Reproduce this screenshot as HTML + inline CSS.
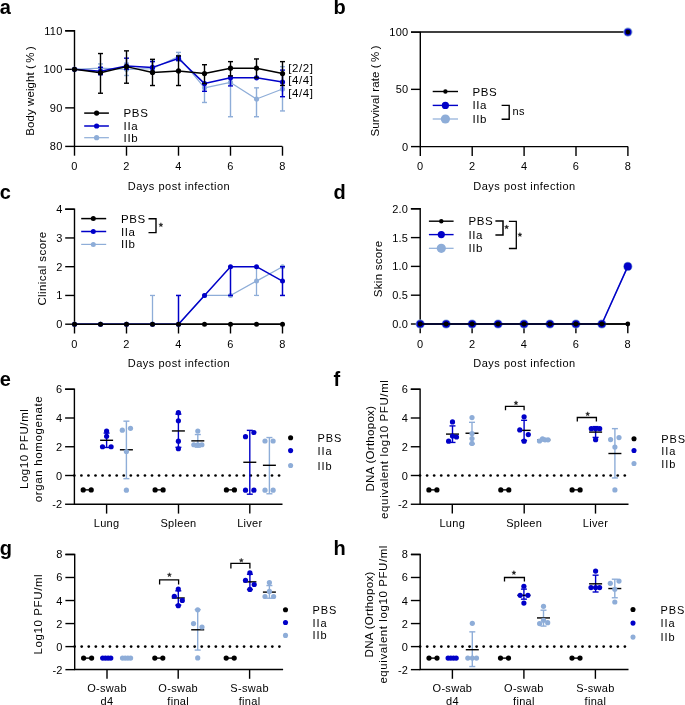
<!DOCTYPE html>
<html><head><meta charset="utf-8"><style>
html,body{margin:0;padding:0;background:#fff;}
svg{display:block;will-change:transform;}
text{font-family:"Liberation Sans", sans-serif;}
</style></head><body>
<svg width="685" height="705" viewBox="0 0 685 705">
<rect width="685" height="705" fill="#fff"/>
<text x="-0.3" y="14" font-size="20" font-weight="bold" fill="#000">a</text>
<text x="333.6" y="14" font-size="20" font-weight="bold" fill="#000">b</text>
<text x="-0.3" y="199.3" font-size="20" font-weight="bold" fill="#000">c</text>
<text x="333.6" y="199.3" font-size="20" font-weight="bold" fill="#000">d</text>
<text x="-0.3" y="385.6" font-size="20" font-weight="bold" fill="#000">e</text>
<text x="333.6" y="385.6" font-size="20" font-weight="bold" fill="#000">f</text>
<text x="-0.3" y="554.7" font-size="20" font-weight="bold" fill="#000">g</text>
<text x="333.6" y="554.7" font-size="20" font-weight="bold" fill="#000">h</text>
<polyline fill="none" stroke="#000000" stroke-width="1.4" stroke-linejoin="miter" points="65.20,30.81 74.50,30.81 74.50,146.40 282.30,146.40"/>
<line x1="65.20" y1="30.81" x2="74.50" y2="30.81" stroke="#000000" stroke-width="1.4" />
<text x="62.50" y="30.81" font-size="11" text-anchor="end" fill="#000000" letter-spacing="0.2" font-weight="normal" dominant-baseline="central">110</text>
<line x1="65.20" y1="69.34" x2="74.50" y2="69.34" stroke="#000000" stroke-width="1.4" />
<text x="62.50" y="69.34" font-size="11" text-anchor="end" fill="#000000" letter-spacing="0.2" font-weight="normal" dominant-baseline="central">100</text>
<line x1="65.20" y1="107.87" x2="74.50" y2="107.87" stroke="#000000" stroke-width="1.4" />
<text x="62.50" y="107.87" font-size="11" text-anchor="end" fill="#000000" letter-spacing="0.2" font-weight="normal" dominant-baseline="central">90</text>
<line x1="65.20" y1="146.40" x2="74.50" y2="146.40" stroke="#000000" stroke-width="1.4" />
<text x="62.50" y="146.40" font-size="11" text-anchor="end" fill="#000000" letter-spacing="0.2" font-weight="normal" dominant-baseline="central">80</text>
<line x1="74.50" y1="146.40" x2="74.50" y2="155.70" stroke="#000000" stroke-width="1.4" />
<text x="74.50" y="165.90" font-size="11" text-anchor="middle" fill="#000000" letter-spacing="0.3" font-weight="normal" dominant-baseline="central">0</text>
<line x1="126.50" y1="146.40" x2="126.50" y2="155.70" stroke="#000000" stroke-width="1.4" />
<text x="126.50" y="165.90" font-size="11" text-anchor="middle" fill="#000000" letter-spacing="0.3" font-weight="normal" dominant-baseline="central">2</text>
<line x1="178.50" y1="146.40" x2="178.50" y2="155.70" stroke="#000000" stroke-width="1.4" />
<text x="178.50" y="165.90" font-size="11" text-anchor="middle" fill="#000000" letter-spacing="0.3" font-weight="normal" dominant-baseline="central">4</text>
<line x1="230.50" y1="146.40" x2="230.50" y2="155.70" stroke="#000000" stroke-width="1.4" />
<text x="230.50" y="165.90" font-size="11" text-anchor="middle" fill="#000000" letter-spacing="0.3" font-weight="normal" dominant-baseline="central">6</text>
<line x1="282.50" y1="146.40" x2="282.50" y2="155.70" stroke="#000000" stroke-width="1.4" />
<text x="282.50" y="165.90" font-size="11" text-anchor="middle" fill="#000000" letter-spacing="0.3" font-weight="normal" dominant-baseline="central">8</text>
<text x="179.00" y="186.00" font-size="11" text-anchor="middle" fill="#000000" letter-spacing="0.5" font-weight="normal" dominant-baseline="central">Days post infection</text>
<text x="33.70" y="135.70" font-size="11.5" fill="#000000" textLength="89.50" lengthAdjust="spacing" transform="rotate(-90 33.70 135.70)">Body weight (&#8201;%&#8201;)</text>
<line x1="100.50" y1="63.95" x2="100.50" y2="72.42" stroke="#8eadd8" stroke-width="1.4" />
<line x1="98.00" y1="63.95" x2="103.00" y2="63.95" stroke="#8eadd8" stroke-width="1.4" />
<line x1="98.00" y1="72.42" x2="103.00" y2="72.42" stroke="#8eadd8" stroke-width="1.4" />
<line x1="126.50" y1="63.18" x2="126.50" y2="75.50" stroke="#8eadd8" stroke-width="1.4" />
<line x1="124.00" y1="63.18" x2="129.00" y2="63.18" stroke="#8eadd8" stroke-width="1.4" />
<line x1="124.00" y1="75.50" x2="129.00" y2="75.50" stroke="#8eadd8" stroke-width="1.4" />
<line x1="152.50" y1="60.86" x2="152.50" y2="73.19" stroke="#8eadd8" stroke-width="1.4" />
<line x1="150.00" y1="60.86" x2="155.00" y2="60.86" stroke="#8eadd8" stroke-width="1.4" />
<line x1="150.00" y1="73.19" x2="155.00" y2="73.19" stroke="#8eadd8" stroke-width="1.4" />
<line x1="178.50" y1="52.39" x2="178.50" y2="60.86" stroke="#8eadd8" stroke-width="1.4" />
<line x1="176.00" y1="52.39" x2="181.00" y2="52.39" stroke="#8eadd8" stroke-width="1.4" />
<line x1="176.00" y1="60.86" x2="181.00" y2="60.86" stroke="#8eadd8" stroke-width="1.4" />
<line x1="204.50" y1="87.83" x2="204.50" y2="102.48" stroke="#8eadd8" stroke-width="1.4" />
<line x1="202.00" y1="87.83" x2="207.00" y2="87.83" stroke="#8eadd8" stroke-width="1.4" />
<line x1="202.00" y1="102.48" x2="207.00" y2="102.48" stroke="#8eadd8" stroke-width="1.4" />
<line x1="230.50" y1="82.44" x2="230.50" y2="116.73" stroke="#8eadd8" stroke-width="1.4" />
<line x1="228.00" y1="82.44" x2="233.00" y2="82.44" stroke="#8eadd8" stroke-width="1.4" />
<line x1="228.00" y1="116.73" x2="233.00" y2="116.73" stroke="#8eadd8" stroke-width="1.4" />
<line x1="256.50" y1="87.83" x2="256.50" y2="116.73" stroke="#8eadd8" stroke-width="1.4" />
<line x1="254.00" y1="87.83" x2="259.00" y2="87.83" stroke="#8eadd8" stroke-width="1.4" />
<line x1="254.00" y1="116.73" x2="259.00" y2="116.73" stroke="#8eadd8" stroke-width="1.4" />
<line x1="282.50" y1="66.64" x2="282.50" y2="110.95" stroke="#8eadd8" stroke-width="1.4" />
<line x1="280.00" y1="66.64" x2="285.00" y2="66.64" stroke="#8eadd8" stroke-width="1.4" />
<line x1="280.00" y1="110.95" x2="285.00" y2="110.95" stroke="#8eadd8" stroke-width="1.4" />
<polyline fill="none" stroke="#8eadd8" stroke-width="1.2" stroke-linejoin="round" points="74.50,69.34 100.50,68.18 126.50,69.34 152.50,68.57 178.50,56.63 204.50,87.83 230.50,82.44 256.50,99.01 282.50,88.99"/>
<circle cx="74.50" cy="69.34" r="2.6" fill="#8eadd8"/>
<circle cx="100.50" cy="68.18" r="2.6" fill="#8eadd8"/>
<circle cx="126.50" cy="69.34" r="2.6" fill="#8eadd8"/>
<circle cx="152.50" cy="68.57" r="2.6" fill="#8eadd8"/>
<circle cx="178.50" cy="56.63" r="2.6" fill="#8eadd8"/>
<circle cx="204.50" cy="87.83" r="2.6" fill="#8eadd8"/>
<circle cx="230.50" cy="82.44" r="2.6" fill="#8eadd8"/>
<circle cx="256.50" cy="99.01" r="2.6" fill="#8eadd8"/>
<circle cx="282.50" cy="88.99" r="2.6" fill="#8eadd8"/>
<line x1="100.50" y1="67.41" x2="100.50" y2="74.73" stroke="#0000c8" stroke-width="1.4" />
<line x1="98.00" y1="67.41" x2="103.00" y2="67.41" stroke="#0000c8" stroke-width="1.4" />
<line x1="98.00" y1="74.73" x2="103.00" y2="74.73" stroke="#0000c8" stroke-width="1.4" />
<line x1="126.50" y1="58.17" x2="126.50" y2="69.34" stroke="#0000c8" stroke-width="1.4" />
<line x1="124.00" y1="58.17" x2="129.00" y2="58.17" stroke="#0000c8" stroke-width="1.4" />
<line x1="124.00" y1="69.34" x2="129.00" y2="69.34" stroke="#0000c8" stroke-width="1.4" />
<line x1="152.50" y1="61.63" x2="152.50" y2="71.27" stroke="#0000c8" stroke-width="1.4" />
<line x1="150.00" y1="61.63" x2="155.00" y2="61.63" stroke="#0000c8" stroke-width="1.4" />
<line x1="150.00" y1="71.27" x2="155.00" y2="71.27" stroke="#0000c8" stroke-width="1.4" />
<line x1="178.50" y1="56.63" x2="178.50" y2="60.48" stroke="#0000c8" stroke-width="1.4" />
<line x1="176.00" y1="56.63" x2="181.00" y2="56.63" stroke="#0000c8" stroke-width="1.4" />
<line x1="176.00" y1="60.48" x2="181.00" y2="60.48" stroke="#0000c8" stroke-width="1.4" />
<line x1="204.50" y1="83.60" x2="204.50" y2="91.30" stroke="#0000c8" stroke-width="1.4" />
<line x1="202.00" y1="83.60" x2="207.00" y2="83.60" stroke="#0000c8" stroke-width="1.4" />
<line x1="202.00" y1="91.30" x2="207.00" y2="91.30" stroke="#0000c8" stroke-width="1.4" />
<line x1="230.50" y1="77.82" x2="230.50" y2="85.91" stroke="#0000c8" stroke-width="1.4" />
<line x1="228.00" y1="77.82" x2="233.00" y2="77.82" stroke="#0000c8" stroke-width="1.4" />
<line x1="228.00" y1="85.91" x2="233.00" y2="85.91" stroke="#0000c8" stroke-width="1.4" />
<line x1="282.50" y1="70.11" x2="282.50" y2="96.70" stroke="#0000c8" stroke-width="1.4" />
<line x1="280.00" y1="70.11" x2="285.00" y2="70.11" stroke="#0000c8" stroke-width="1.4" />
<line x1="280.00" y1="96.70" x2="285.00" y2="96.70" stroke="#0000c8" stroke-width="1.4" />
<polyline fill="none" stroke="#0000c8" stroke-width="1.5" stroke-linejoin="round" points="74.50,69.34 100.50,71.27 126.50,66.06 152.50,67.41 178.50,58.55 204.50,83.60 230.50,77.82 256.50,77.82 282.50,82.05"/>
<circle cx="74.50" cy="69.34" r="2.6" fill="#0000c8"/>
<circle cx="100.50" cy="71.27" r="2.6" fill="#0000c8"/>
<circle cx="126.50" cy="66.06" r="2.6" fill="#0000c8"/>
<circle cx="152.50" cy="67.41" r="2.6" fill="#0000c8"/>
<circle cx="178.50" cy="58.55" r="2.6" fill="#0000c8"/>
<circle cx="204.50" cy="83.60" r="2.6" fill="#0000c8"/>
<circle cx="230.50" cy="77.82" r="2.6" fill="#0000c8"/>
<circle cx="256.50" cy="77.82" r="2.6" fill="#0000c8"/>
<circle cx="282.50" cy="82.05" r="2.6" fill="#0000c8"/>
<line x1="100.50" y1="53.54" x2="100.50" y2="93.23" stroke="#000000" stroke-width="1.4" />
<line x1="98.00" y1="53.54" x2="103.00" y2="53.54" stroke="#000000" stroke-width="1.4" />
<line x1="98.00" y1="93.23" x2="103.00" y2="93.23" stroke="#000000" stroke-width="1.4" />
<line x1="126.50" y1="50.85" x2="126.50" y2="83.21" stroke="#000000" stroke-width="1.4" />
<line x1="124.00" y1="50.85" x2="129.00" y2="50.85" stroke="#000000" stroke-width="1.4" />
<line x1="124.00" y1="83.21" x2="129.00" y2="83.21" stroke="#000000" stroke-width="1.4" />
<line x1="152.50" y1="59.32" x2="152.50" y2="85.52" stroke="#000000" stroke-width="1.4" />
<line x1="150.00" y1="59.32" x2="155.00" y2="59.32" stroke="#000000" stroke-width="1.4" />
<line x1="150.00" y1="85.52" x2="155.00" y2="85.52" stroke="#000000" stroke-width="1.4" />
<line x1="178.50" y1="55.85" x2="178.50" y2="85.52" stroke="#000000" stroke-width="1.4" />
<line x1="176.00" y1="55.85" x2="181.00" y2="55.85" stroke="#000000" stroke-width="1.4" />
<line x1="176.00" y1="85.52" x2="181.00" y2="85.52" stroke="#000000" stroke-width="1.4" />
<line x1="204.50" y1="64.72" x2="204.50" y2="83.60" stroke="#000000" stroke-width="1.4" />
<line x1="202.00" y1="64.72" x2="207.00" y2="64.72" stroke="#000000" stroke-width="1.4" />
<line x1="202.00" y1="83.60" x2="207.00" y2="83.60" stroke="#000000" stroke-width="1.4" />
<line x1="230.50" y1="61.63" x2="230.50" y2="75.89" stroke="#000000" stroke-width="1.4" />
<line x1="228.00" y1="61.63" x2="233.00" y2="61.63" stroke="#000000" stroke-width="1.4" />
<line x1="228.00" y1="75.89" x2="233.00" y2="75.89" stroke="#000000" stroke-width="1.4" />
<line x1="256.50" y1="58.94" x2="256.50" y2="77.82" stroke="#000000" stroke-width="1.4" />
<line x1="254.00" y1="58.94" x2="259.00" y2="58.94" stroke="#000000" stroke-width="1.4" />
<line x1="254.00" y1="77.82" x2="259.00" y2="77.82" stroke="#000000" stroke-width="1.4" />
<line x1="282.50" y1="61.63" x2="282.50" y2="85.52" stroke="#000000" stroke-width="1.4" />
<line x1="280.00" y1="61.63" x2="285.00" y2="61.63" stroke="#000000" stroke-width="1.4" />
<line x1="280.00" y1="85.52" x2="285.00" y2="85.52" stroke="#000000" stroke-width="1.4" />
<polyline fill="none" stroke="#000000" stroke-width="1.5" stroke-linejoin="round" points="74.50,69.34 100.50,72.81 126.50,66.64 152.50,72.42 178.50,70.88 204.50,73.58 230.50,68.18 256.50,68.18 282.50,73.58"/>
<circle cx="74.50" cy="69.34" r="2.6" fill="#000000"/>
<circle cx="100.50" cy="72.81" r="2.6" fill="#000000"/>
<circle cx="126.50" cy="66.64" r="2.6" fill="#000000"/>
<circle cx="152.50" cy="72.42" r="2.6" fill="#000000"/>
<circle cx="178.50" cy="70.88" r="2.6" fill="#000000"/>
<circle cx="204.50" cy="73.58" r="2.6" fill="#000000"/>
<circle cx="230.50" cy="68.18" r="2.6" fill="#000000"/>
<circle cx="256.50" cy="68.18" r="2.6" fill="#000000"/>
<circle cx="282.50" cy="73.58" r="2.6" fill="#000000"/>
<text x="288.30" y="67.80" font-size="11.5" text-anchor="start" fill="#000000" letter-spacing="0.55" font-weight="normal" dominant-baseline="central">[2/2]</text>
<text x="288.30" y="79.80" font-size="11.5" text-anchor="start" fill="#000000" letter-spacing="0.55" font-weight="normal" dominant-baseline="central">[4/4]</text>
<text x="288.30" y="92.80" font-size="11.5" text-anchor="start" fill="#000000" letter-spacing="0.55" font-weight="normal" dominant-baseline="central">[4/4]</text>
<line x1="84.20" y1="113.10" x2="108.90" y2="113.10" stroke="#000000" stroke-width="1.5" />
<circle cx="96.60" cy="113.10" r="2.6" fill="#000000"/>
<text x="123.60" y="113.10" font-size="11.5" text-anchor="start" fill="#000000" letter-spacing="0.6" font-weight="normal" dominant-baseline="central">PBS</text>
<line x1="84.20" y1="126.00" x2="108.90" y2="126.00" stroke="#0000c8" stroke-width="1.5" />
<circle cx="96.60" cy="126.00" r="2.6" fill="#0000c8"/>
<text x="123.60" y="126.00" font-size="11.5" text-anchor="start" fill="#000000" letter-spacing="0.6" font-weight="normal" dominant-baseline="central">IIa</text>
<line x1="84.20" y1="137.70" x2="108.90" y2="137.70" stroke="#8eadd8" stroke-width="1.2" />
<circle cx="96.60" cy="137.70" r="2.6" fill="#8eadd8"/>
<text x="123.60" y="137.70" font-size="11.5" text-anchor="start" fill="#000000" letter-spacing="0.6" font-weight="normal" dominant-baseline="central">IIb</text>
<polyline fill="none" stroke="#000000" stroke-width="1.4" stroke-linejoin="miter" points="411.00,32.10 420.30,32.10 420.30,146.60 628.00,146.60"/>
<line x1="411.00" y1="32.10" x2="420.30" y2="32.10" stroke="#000000" stroke-width="1.4" />
<text x="408.30" y="32.10" font-size="11" text-anchor="end" fill="#000000" letter-spacing="0.2" font-weight="normal" dominant-baseline="central">100</text>
<line x1="411.00" y1="89.35" x2="420.30" y2="89.35" stroke="#000000" stroke-width="1.4" />
<text x="408.30" y="89.35" font-size="11" text-anchor="end" fill="#000000" letter-spacing="0.2" font-weight="normal" dominant-baseline="central">50</text>
<line x1="411.00" y1="146.60" x2="420.30" y2="146.60" stroke="#000000" stroke-width="1.4" />
<text x="408.30" y="146.60" font-size="11" text-anchor="end" fill="#000000" letter-spacing="0.2" font-weight="normal" dominant-baseline="central">0</text>
<line x1="420.30" y1="146.60" x2="420.30" y2="155.90" stroke="#000000" stroke-width="1.4" />
<text x="420.30" y="166.10" font-size="11" text-anchor="middle" fill="#000000" letter-spacing="0.3" font-weight="normal" dominant-baseline="central">0</text>
<line x1="472.20" y1="146.60" x2="472.20" y2="155.90" stroke="#000000" stroke-width="1.4" />
<text x="472.20" y="166.10" font-size="11" text-anchor="middle" fill="#000000" letter-spacing="0.3" font-weight="normal" dominant-baseline="central">2</text>
<line x1="524.10" y1="146.60" x2="524.10" y2="155.90" stroke="#000000" stroke-width="1.4" />
<text x="524.10" y="166.10" font-size="11" text-anchor="middle" fill="#000000" letter-spacing="0.3" font-weight="normal" dominant-baseline="central">4</text>
<line x1="576.00" y1="146.60" x2="576.00" y2="155.90" stroke="#000000" stroke-width="1.4" />
<text x="576.00" y="166.10" font-size="11" text-anchor="middle" fill="#000000" letter-spacing="0.3" font-weight="normal" dominant-baseline="central">6</text>
<line x1="627.90" y1="146.60" x2="627.90" y2="155.90" stroke="#000000" stroke-width="1.4" />
<text x="627.90" y="166.10" font-size="11" text-anchor="middle" fill="#000000" letter-spacing="0.3" font-weight="normal" dominant-baseline="central">8</text>
<text x="524.50" y="186.00" font-size="11" text-anchor="middle" fill="#000000" letter-spacing="0.5" font-weight="normal" dominant-baseline="central">Days post infection</text>
<text x="378.70" y="136.50" font-size="11.5" fill="#000000" textLength="91.10" lengthAdjust="spacing" transform="rotate(-90 378.70 136.50)">Survival rate (&#8201;%&#8201;)</text>
<line x1="420.30" y1="32.10" x2="627.90" y2="32.10" stroke="#000000" stroke-width="1.5" />
<circle cx="627.90" cy="32.10" r="4.6" fill="#8eadd8"/>
<circle cx="627.90" cy="32.10" r="3.6" fill="#0000c8"/>
<circle cx="627.90" cy="32.10" r="2.3" fill="#000000"/>
<line x1="432.70" y1="91.50" x2="458.00" y2="91.50" stroke="#000000" stroke-width="1.4" />
<circle cx="445.40" cy="91.50" r="2.2" fill="#000000"/>
<text x="472.40" y="91.50" font-size="11.5" text-anchor="start" fill="#000000" letter-spacing="0.6" font-weight="normal" dominant-baseline="central">PBS</text>
<line x1="432.70" y1="105.40" x2="458.00" y2="105.40" stroke="#0000c8" stroke-width="1.4" />
<circle cx="445.40" cy="105.40" r="3.6" fill="#0000c8"/>
<text x="472.40" y="105.40" font-size="11.5" text-anchor="start" fill="#000000" letter-spacing="0.6" font-weight="normal" dominant-baseline="central">IIa</text>
<line x1="432.70" y1="119.00" x2="458.00" y2="119.00" stroke="#8eadd8" stroke-width="1.2" />
<circle cx="445.40" cy="119.00" r="4.6" fill="#8eadd8"/>
<text x="472.40" y="119.00" font-size="11.5" text-anchor="start" fill="#000000" letter-spacing="0.6" font-weight="normal" dominant-baseline="central">IIb</text>
<polyline fill="none" stroke="#000000" stroke-width="1.4" points="501.6,105.4 509.2,105.4 509.2,119.3 501.6,119.3"/>
<text x="512.50" y="110.80" font-size="11" text-anchor="start" fill="#000000" letter-spacing="0.3" font-weight="normal" dominant-baseline="central">ns</text>
<polyline fill="none" stroke="#000000" stroke-width="1.4" stroke-linejoin="miter" points="65.20,209.20 74.50,209.20 74.50,324.20 282.30,324.20"/>
<line x1="65.20" y1="209.20" x2="74.50" y2="209.20" stroke="#000000" stroke-width="1.4" />
<text x="62.50" y="209.20" font-size="11" text-anchor="end" fill="#000000" letter-spacing="0.2" font-weight="normal" dominant-baseline="central">4</text>
<line x1="65.20" y1="237.95" x2="74.50" y2="237.95" stroke="#000000" stroke-width="1.4" />
<text x="62.50" y="237.95" font-size="11" text-anchor="end" fill="#000000" letter-spacing="0.2" font-weight="normal" dominant-baseline="central">3</text>
<line x1="65.20" y1="266.70" x2="74.50" y2="266.70" stroke="#000000" stroke-width="1.4" />
<text x="62.50" y="266.70" font-size="11" text-anchor="end" fill="#000000" letter-spacing="0.2" font-weight="normal" dominant-baseline="central">2</text>
<line x1="65.20" y1="295.45" x2="74.50" y2="295.45" stroke="#000000" stroke-width="1.4" />
<text x="62.50" y="295.45" font-size="11" text-anchor="end" fill="#000000" letter-spacing="0.2" font-weight="normal" dominant-baseline="central">1</text>
<line x1="65.20" y1="324.20" x2="74.50" y2="324.20" stroke="#000000" stroke-width="1.4" />
<text x="62.50" y="324.20" font-size="11" text-anchor="end" fill="#000000" letter-spacing="0.2" font-weight="normal" dominant-baseline="central">0</text>
<line x1="74.50" y1="324.20" x2="74.50" y2="333.50" stroke="#000000" stroke-width="1.4" />
<text x="74.50" y="343.70" font-size="11" text-anchor="middle" fill="#000000" letter-spacing="0.3" font-weight="normal" dominant-baseline="central">0</text>
<line x1="126.50" y1="324.20" x2="126.50" y2="333.50" stroke="#000000" stroke-width="1.4" />
<text x="126.50" y="343.70" font-size="11" text-anchor="middle" fill="#000000" letter-spacing="0.3" font-weight="normal" dominant-baseline="central">2</text>
<line x1="178.50" y1="324.20" x2="178.50" y2="333.50" stroke="#000000" stroke-width="1.4" />
<text x="178.50" y="343.70" font-size="11" text-anchor="middle" fill="#000000" letter-spacing="0.3" font-weight="normal" dominant-baseline="central">4</text>
<line x1="230.50" y1="324.20" x2="230.50" y2="333.50" stroke="#000000" stroke-width="1.4" />
<text x="230.50" y="343.70" font-size="11" text-anchor="middle" fill="#000000" letter-spacing="0.3" font-weight="normal" dominant-baseline="central">6</text>
<line x1="282.50" y1="324.20" x2="282.50" y2="333.50" stroke="#000000" stroke-width="1.4" />
<text x="282.50" y="343.70" font-size="11" text-anchor="middle" fill="#000000" letter-spacing="0.3" font-weight="normal" dominant-baseline="central">8</text>
<text x="179.00" y="363.00" font-size="11" text-anchor="middle" fill="#000000" letter-spacing="0.5" font-weight="normal" dominant-baseline="central">Days post infection</text>
<text x="46.50" y="305.60" font-size="11.5" fill="#000000" textLength="73.70" lengthAdjust="spacing" transform="rotate(-90 46.50 305.60)">Clinical score</text>
<line x1="152.50" y1="295.45" x2="152.50" y2="324.20" stroke="#8eadd8" stroke-width="1.3" />
<line x1="150.00" y1="295.45" x2="155.00" y2="295.45" stroke="#8eadd8" stroke-width="1.3" />
<line x1="150.00" y1="324.20" x2="155.00" y2="324.20" stroke="#8eadd8" stroke-width="1.3" />
<line x1="256.50" y1="266.70" x2="256.50" y2="295.45" stroke="#8eadd8" stroke-width="1.3" />
<line x1="254.00" y1="266.70" x2="259.00" y2="266.70" stroke="#8eadd8" stroke-width="1.3" />
<line x1="254.00" y1="295.45" x2="259.00" y2="295.45" stroke="#8eadd8" stroke-width="1.3" />
<polyline fill="none" stroke="#8eadd8" stroke-width="1.3" stroke-linejoin="round" points="74.50,324.20 100.50,324.20 126.50,324.20 152.50,324.20 178.50,324.20 204.50,295.45 230.50,295.45 256.50,281.07 282.50,266.70"/>
<circle cx="74.50" cy="324.20" r="2.5" fill="#8eadd8"/>
<circle cx="100.50" cy="324.20" r="2.5" fill="#8eadd8"/>
<circle cx="126.50" cy="324.20" r="2.5" fill="#8eadd8"/>
<circle cx="152.50" cy="324.20" r="2.5" fill="#8eadd8"/>
<circle cx="178.50" cy="324.20" r="2.5" fill="#8eadd8"/>
<circle cx="204.50" cy="295.45" r="2.5" fill="#8eadd8"/>
<circle cx="230.50" cy="295.45" r="2.5" fill="#8eadd8"/>
<circle cx="256.50" cy="281.07" r="2.5" fill="#8eadd8"/>
<circle cx="282.50" cy="266.70" r="2.5" fill="#8eadd8"/>
<line x1="178.50" y1="295.45" x2="178.50" y2="324.20" stroke="#0000c8" stroke-width="1.5" />
<line x1="176.00" y1="295.45" x2="181.00" y2="295.45" stroke="#0000c8" stroke-width="1.5" />
<line x1="176.00" y1="324.20" x2="181.00" y2="324.20" stroke="#0000c8" stroke-width="1.5" />
<line x1="230.50" y1="266.70" x2="230.50" y2="295.45" stroke="#0000c8" stroke-width="1.5" />
<line x1="228.00" y1="266.70" x2="233.00" y2="266.70" stroke="#0000c8" stroke-width="1.5" />
<line x1="228.00" y1="295.45" x2="233.00" y2="295.45" stroke="#0000c8" stroke-width="1.5" />
<line x1="282.50" y1="266.70" x2="282.50" y2="295.45" stroke="#0000c8" stroke-width="1.5" />
<line x1="280.00" y1="266.70" x2="285.00" y2="266.70" stroke="#0000c8" stroke-width="1.5" />
<line x1="280.00" y1="295.45" x2="285.00" y2="295.45" stroke="#0000c8" stroke-width="1.5" />
<polyline fill="none" stroke="#0000c8" stroke-width="1.5" stroke-linejoin="round" points="74.50,324.20 100.50,324.20 126.50,324.20 152.50,324.20 178.50,324.20 204.50,295.45 230.50,266.70 256.50,266.70 282.50,281.07"/>
<circle cx="74.50" cy="324.20" r="2.5" fill="#0000c8"/>
<circle cx="100.50" cy="324.20" r="2.5" fill="#0000c8"/>
<circle cx="126.50" cy="324.20" r="2.5" fill="#0000c8"/>
<circle cx="152.50" cy="324.20" r="2.5" fill="#0000c8"/>
<circle cx="178.50" cy="324.20" r="2.5" fill="#0000c8"/>
<circle cx="204.50" cy="295.45" r="2.5" fill="#0000c8"/>
<circle cx="230.50" cy="266.70" r="2.5" fill="#0000c8"/>
<circle cx="256.50" cy="266.70" r="2.5" fill="#0000c8"/>
<circle cx="282.50" cy="281.07" r="2.5" fill="#0000c8"/>
<line x1="74.50" y1="324.20" x2="282.50" y2="324.20" stroke="#000000" stroke-width="1.5" />
<circle cx="74.50" cy="324.20" r="2.5" fill="#000000"/>
<circle cx="100.50" cy="324.20" r="2.5" fill="#000000"/>
<circle cx="126.50" cy="324.20" r="2.5" fill="#000000"/>
<circle cx="152.50" cy="324.20" r="2.5" fill="#000000"/>
<circle cx="178.50" cy="324.20" r="2.5" fill="#000000"/>
<circle cx="204.50" cy="324.20" r="2.5" fill="#000000"/>
<circle cx="230.50" cy="324.20" r="2.5" fill="#000000"/>
<circle cx="256.50" cy="324.20" r="2.5" fill="#000000"/>
<circle cx="282.50" cy="324.20" r="2.5" fill="#000000"/>
<line x1="81.20" y1="218.60" x2="106.20" y2="218.60" stroke="#000000" stroke-width="1.5" />
<circle cx="93.30" cy="218.60" r="2.5" fill="#000000"/>
<text x="120.90" y="218.60" font-size="11.5" text-anchor="start" fill="#000000" letter-spacing="0.6" font-weight="normal" dominant-baseline="central">PBS</text>
<line x1="81.20" y1="231.50" x2="106.20" y2="231.50" stroke="#0000c8" stroke-width="1.5" />
<circle cx="93.30" cy="231.50" r="2.5" fill="#0000c8"/>
<text x="120.90" y="231.50" font-size="11.5" text-anchor="start" fill="#000000" letter-spacing="0.6" font-weight="normal" dominant-baseline="central">IIa</text>
<line x1="81.20" y1="244.40" x2="106.20" y2="244.40" stroke="#8eadd8" stroke-width="1.2" />
<circle cx="93.30" cy="244.40" r="2.5" fill="#8eadd8"/>
<text x="120.90" y="244.40" font-size="11.5" text-anchor="start" fill="#000000" letter-spacing="0.6" font-weight="normal" dominant-baseline="central">IIb</text>
<polyline fill="none" stroke="#000000" stroke-width="1.4" points="148.5,218.8 156,218.8 156,232.6 148.5,232.6"/>
<polygon points="160.90,222.70 161.46,224.13 162.99,224.22 161.80,225.19 162.19,226.68 160.90,225.85 159.61,226.68 160.00,225.19 158.81,224.22 160.34,224.13" fill="#222" stroke="#222" stroke-width="0.4" stroke-linejoin="round"/>
<polyline fill="none" stroke="#000000" stroke-width="1.4" stroke-linejoin="miter" points="410.90,208.80 420.20,208.80 420.20,324.00 628.00,324.00"/>
<line x1="410.90" y1="208.80" x2="420.20" y2="208.80" stroke="#000000" stroke-width="1.4" />
<text x="408.20" y="208.80" font-size="11" text-anchor="end" fill="#000000" letter-spacing="0.2" font-weight="normal" dominant-baseline="central">2.0</text>
<line x1="410.90" y1="237.60" x2="420.20" y2="237.60" stroke="#000000" stroke-width="1.4" />
<text x="408.20" y="237.60" font-size="11" text-anchor="end" fill="#000000" letter-spacing="0.2" font-weight="normal" dominant-baseline="central">1.5</text>
<line x1="410.90" y1="266.40" x2="420.20" y2="266.40" stroke="#000000" stroke-width="1.4" />
<text x="408.20" y="266.40" font-size="11" text-anchor="end" fill="#000000" letter-spacing="0.2" font-weight="normal" dominant-baseline="central">1.0</text>
<line x1="410.90" y1="295.20" x2="420.20" y2="295.20" stroke="#000000" stroke-width="1.4" />
<text x="408.20" y="295.20" font-size="11" text-anchor="end" fill="#000000" letter-spacing="0.2" font-weight="normal" dominant-baseline="central">0.5</text>
<line x1="410.90" y1="324.00" x2="420.20" y2="324.00" stroke="#000000" stroke-width="1.4" />
<text x="408.20" y="324.00" font-size="11" text-anchor="end" fill="#000000" letter-spacing="0.2" font-weight="normal" dominant-baseline="central">0.0</text>
<line x1="420.20" y1="324.00" x2="420.20" y2="333.30" stroke="#000000" stroke-width="1.4" />
<text x="420.20" y="343.50" font-size="11" text-anchor="middle" fill="#000000" letter-spacing="0.3" font-weight="normal" dominant-baseline="central">0</text>
<line x1="472.10" y1="324.00" x2="472.10" y2="333.30" stroke="#000000" stroke-width="1.4" />
<text x="472.10" y="343.50" font-size="11" text-anchor="middle" fill="#000000" letter-spacing="0.3" font-weight="normal" dominant-baseline="central">2</text>
<line x1="524.00" y1="324.00" x2="524.00" y2="333.30" stroke="#000000" stroke-width="1.4" />
<text x="524.00" y="343.50" font-size="11" text-anchor="middle" fill="#000000" letter-spacing="0.3" font-weight="normal" dominant-baseline="central">4</text>
<line x1="575.90" y1="324.00" x2="575.90" y2="333.30" stroke="#000000" stroke-width="1.4" />
<text x="575.90" y="343.50" font-size="11" text-anchor="middle" fill="#000000" letter-spacing="0.3" font-weight="normal" dominant-baseline="central">6</text>
<line x1="627.80" y1="324.00" x2="627.80" y2="333.30" stroke="#000000" stroke-width="1.4" />
<text x="627.80" y="343.50" font-size="11" text-anchor="middle" fill="#000000" letter-spacing="0.3" font-weight="normal" dominant-baseline="central">8</text>
<text x="524.50" y="363.00" font-size="11" text-anchor="middle" fill="#000000" letter-spacing="0.5" font-weight="normal" dominant-baseline="central">Days post infection</text>
<text x="382.50" y="297.20" font-size="11.5" fill="#000000" textLength="56.30" lengthAdjust="spacing" transform="rotate(-90 382.50 297.20)">Skin score</text>
<polyline fill="none" stroke="#8eadd8" stroke-width="1.3" stroke-linejoin="round" points="420.20,324.00 446.15,324.00 472.10,324.00 498.05,324.00 524.00,324.00 549.95,324.00 575.90,324.00 601.85,324.00 627.80,266.40"/>
<circle cx="420.20" cy="324.00" r="4.6" fill="#8eadd8"/>
<circle cx="446.15" cy="324.00" r="4.6" fill="#8eadd8"/>
<circle cx="472.10" cy="324.00" r="4.6" fill="#8eadd8"/>
<circle cx="498.05" cy="324.00" r="4.6" fill="#8eadd8"/>
<circle cx="524.00" cy="324.00" r="4.6" fill="#8eadd8"/>
<circle cx="549.95" cy="324.00" r="4.6" fill="#8eadd8"/>
<circle cx="575.90" cy="324.00" r="4.6" fill="#8eadd8"/>
<circle cx="601.85" cy="324.00" r="4.6" fill="#8eadd8"/>
<circle cx="627.80" cy="266.40" r="4.6" fill="#8eadd8"/>
<polyline fill="none" stroke="#0000c8" stroke-width="1.5" stroke-linejoin="round" points="420.20,324.00 446.15,324.00 472.10,324.00 498.05,324.00 524.00,324.00 549.95,324.00 575.90,324.00 601.85,324.00 627.80,266.40"/>
<circle cx="420.20" cy="324.00" r="3.8" fill="#0000c8"/>
<circle cx="446.15" cy="324.00" r="3.8" fill="#0000c8"/>
<circle cx="472.10" cy="324.00" r="3.8" fill="#0000c8"/>
<circle cx="498.05" cy="324.00" r="3.8" fill="#0000c8"/>
<circle cx="524.00" cy="324.00" r="3.8" fill="#0000c8"/>
<circle cx="549.95" cy="324.00" r="3.8" fill="#0000c8"/>
<circle cx="575.90" cy="324.00" r="3.8" fill="#0000c8"/>
<circle cx="601.85" cy="324.00" r="3.8" fill="#0000c8"/>
<circle cx="627.80" cy="266.40" r="3.9" fill="#0000c8"/>
<line x1="420.20" y1="324.00" x2="627.80" y2="324.00" stroke="#000000" stroke-width="1.5" />
<circle cx="420.20" cy="324.00" r="2.4" fill="#000000"/>
<circle cx="446.15" cy="324.00" r="2.4" fill="#000000"/>
<circle cx="472.10" cy="324.00" r="2.4" fill="#000000"/>
<circle cx="498.05" cy="324.00" r="2.4" fill="#000000"/>
<circle cx="524.00" cy="324.00" r="2.4" fill="#000000"/>
<circle cx="549.95" cy="324.00" r="2.4" fill="#000000"/>
<circle cx="575.90" cy="324.00" r="2.4" fill="#000000"/>
<circle cx="601.85" cy="324.00" r="2.4" fill="#000000"/>
<circle cx="627.80" cy="324.00" r="2.4" fill="#000000"/>
<line x1="428.90" y1="221.20" x2="453.60" y2="221.20" stroke="#000000" stroke-width="1.4" />
<circle cx="441.30" cy="221.20" r="2.2" fill="#000000"/>
<text x="468.50" y="221.20" font-size="11.5" text-anchor="start" fill="#000000" letter-spacing="0.6" font-weight="normal" dominant-baseline="central">PBS</text>
<line x1="428.90" y1="234.60" x2="453.60" y2="234.60" stroke="#0000c8" stroke-width="1.4" />
<circle cx="441.30" cy="234.60" r="3.6" fill="#0000c8"/>
<text x="468.50" y="234.60" font-size="11.5" text-anchor="start" fill="#000000" letter-spacing="0.6" font-weight="normal" dominant-baseline="central">IIa</text>
<line x1="428.90" y1="248.30" x2="453.60" y2="248.30" stroke="#8eadd8" stroke-width="1.2" />
<circle cx="441.30" cy="248.30" r="4.6" fill="#8eadd8"/>
<text x="468.50" y="248.30" font-size="11.5" text-anchor="start" fill="#000000" letter-spacing="0.6" font-weight="normal" dominant-baseline="central">IIb</text>
<polyline fill="none" stroke="#000000" stroke-width="1.5" points="495.4,221 503,221 503,234.9 495.4,234.9"/>
<polygon points="506.60,224.90 507.16,226.33 508.69,226.42 507.50,227.39 507.89,228.88 506.60,228.05 505.31,228.88 505.70,227.39 504.51,226.42 506.04,226.33" fill="#222" stroke="#222" stroke-width="0.4" stroke-linejoin="round"/>
<polyline fill="none" stroke="#000000" stroke-width="1.3" points="508.9,221.4 516.3,221.4 516.3,248.5 508.9,248.5"/>
<polygon points="519.90,232.50 520.46,233.93 521.99,234.02 520.80,234.99 521.19,236.48 519.90,235.65 518.61,236.48 519.00,234.99 517.81,234.02 519.34,233.93" fill="#222" stroke="#222" stroke-width="0.4" stroke-linejoin="round"/>
<polyline fill="none" stroke="#000000" stroke-width="1.4" stroke-linejoin="miter" points="65.10,389.25 74.40,389.25 74.40,504.30 282.50,504.30"/>
<line x1="65.10" y1="389.25" x2="74.40" y2="389.25" stroke="#000000" stroke-width="1.4" />
<text x="62.40" y="389.25" font-size="11" text-anchor="end" fill="#000000" letter-spacing="0.2" font-weight="normal" dominant-baseline="central">6</text>
<line x1="65.10" y1="418.00" x2="74.40" y2="418.00" stroke="#000000" stroke-width="1.4" />
<text x="62.40" y="418.00" font-size="11" text-anchor="end" fill="#000000" letter-spacing="0.2" font-weight="normal" dominant-baseline="central">4</text>
<line x1="65.10" y1="446.75" x2="74.40" y2="446.75" stroke="#000000" stroke-width="1.4" />
<text x="62.40" y="446.75" font-size="11" text-anchor="end" fill="#000000" letter-spacing="0.2" font-weight="normal" dominant-baseline="central">2</text>
<line x1="65.10" y1="475.50" x2="74.40" y2="475.50" stroke="#000000" stroke-width="1.4" />
<text x="62.40" y="475.50" font-size="11" text-anchor="end" fill="#000000" letter-spacing="0.2" font-weight="normal" dominant-baseline="central">0</text>
<line x1="65.10" y1="504.25" x2="74.40" y2="504.25" stroke="#000000" stroke-width="1.4" />
<text x="62.40" y="504.25" font-size="11" text-anchor="end" fill="#000000" letter-spacing="0.2" font-weight="normal" dominant-baseline="central">-2</text>
<line x1="106.60" y1="504.30" x2="106.60" y2="513.60" stroke="#000000" stroke-width="1.4" />
<text x="106.60" y="522.90" font-size="11" text-anchor="middle" fill="#000000" letter-spacing="0.3" font-weight="normal" dominant-baseline="central">Lung</text>
<line x1="178.50" y1="504.30" x2="178.50" y2="513.60" stroke="#000000" stroke-width="1.4" />
<text x="178.50" y="522.90" font-size="11" text-anchor="middle" fill="#000000" letter-spacing="0.3" font-weight="normal" dominant-baseline="central">Spleen</text>
<line x1="249.80" y1="504.30" x2="249.80" y2="513.60" stroke="#000000" stroke-width="1.4" />
<text x="249.80" y="522.90" font-size="11" text-anchor="middle" fill="#000000" letter-spacing="0.3" font-weight="normal" dominant-baseline="central">Liver</text>
<circle cx="74.34" cy="475.50" r="1.35" fill="#000000"/>
<circle cx="81.40" cy="475.50" r="1.35" fill="#000000"/>
<circle cx="88.46" cy="475.50" r="1.35" fill="#000000"/>
<circle cx="95.52" cy="475.50" r="1.35" fill="#000000"/>
<circle cx="102.58" cy="475.50" r="1.35" fill="#000000"/>
<circle cx="109.64" cy="475.50" r="1.35" fill="#000000"/>
<circle cx="116.70" cy="475.50" r="1.35" fill="#000000"/>
<circle cx="123.76" cy="475.50" r="1.35" fill="#000000"/>
<circle cx="130.82" cy="475.50" r="1.35" fill="#000000"/>
<circle cx="137.88" cy="475.50" r="1.35" fill="#000000"/>
<circle cx="144.94" cy="475.50" r="1.35" fill="#000000"/>
<circle cx="152.00" cy="475.50" r="1.35" fill="#000000"/>
<circle cx="159.06" cy="475.50" r="1.35" fill="#000000"/>
<circle cx="166.12" cy="475.50" r="1.35" fill="#000000"/>
<circle cx="173.18" cy="475.50" r="1.35" fill="#000000"/>
<circle cx="180.24" cy="475.50" r="1.35" fill="#000000"/>
<circle cx="187.30" cy="475.50" r="1.35" fill="#000000"/>
<circle cx="194.36" cy="475.50" r="1.35" fill="#000000"/>
<circle cx="201.42" cy="475.50" r="1.35" fill="#000000"/>
<circle cx="208.48" cy="475.50" r="1.35" fill="#000000"/>
<circle cx="215.54" cy="475.50" r="1.35" fill="#000000"/>
<circle cx="222.60" cy="475.50" r="1.35" fill="#000000"/>
<circle cx="229.66" cy="475.50" r="1.35" fill="#000000"/>
<circle cx="236.72" cy="475.50" r="1.35" fill="#000000"/>
<circle cx="243.78" cy="475.50" r="1.35" fill="#000000"/>
<circle cx="250.84" cy="475.50" r="1.35" fill="#000000"/>
<circle cx="257.90" cy="475.50" r="1.35" fill="#000000"/>
<circle cx="264.96" cy="475.50" r="1.35" fill="#000000"/>
<circle cx="272.02" cy="475.50" r="1.35" fill="#000000"/>
<circle cx="279.08" cy="475.50" r="1.35" fill="#000000"/>
<text x="27.80" y="489.10" font-size="11.5" fill="#000000" textLength="80.00" lengthAdjust="spacing" transform="rotate(-90 27.80 489.10)">Log10 PFU/ml</text>
<text x="42.00" y="502.20" font-size="11.5" fill="#000000" textLength="105.90" lengthAdjust="spacing" transform="rotate(-90 42.00 502.20)">organ homogenate</text>
<line x1="83.20" y1="489.88" x2="91.20" y2="489.88" stroke="#000000" stroke-width="1.4" />
<circle cx="83.20" cy="489.88" r="2.6" fill="#000000"/>
<circle cx="91.20" cy="489.88" r="2.6" fill="#000000"/>
<line x1="155.10" y1="489.88" x2="163.10" y2="489.88" stroke="#000000" stroke-width="1.4" />
<circle cx="155.10" cy="489.88" r="2.6" fill="#000000"/>
<circle cx="163.10" cy="489.88" r="2.6" fill="#000000"/>
<line x1="226.40" y1="489.88" x2="234.40" y2="489.88" stroke="#000000" stroke-width="1.4" />
<circle cx="226.40" cy="489.88" r="2.6" fill="#000000"/>
<circle cx="234.40" cy="489.88" r="2.6" fill="#000000"/>
<line x1="106.60" y1="433.09" x2="106.60" y2="447.47" stroke="#0000c8" stroke-width="1.4" />
<line x1="103.60" y1="433.09" x2="109.60" y2="433.09" stroke="#0000c8" stroke-width="1.4" />
<line x1="103.60" y1="447.47" x2="109.60" y2="447.47" stroke="#0000c8" stroke-width="1.4" />
<line x1="100.10" y1="440.28" x2="113.10" y2="440.28" stroke="#000000" stroke-width="1.4" />
<circle cx="102.50" cy="446.75" r="2.6" fill="#0000c8"/>
<circle cx="111.10" cy="446.75" r="2.6" fill="#0000c8"/>
<circle cx="106.60" cy="436.26" r="2.6" fill="#0000c8"/>
<circle cx="106.60" cy="431.08" r="2.6" fill="#0000c8"/>
<line x1="126.40" y1="421.16" x2="126.40" y2="478.66" stroke="#8eadd8" stroke-width="1.4" />
<line x1="123.40" y1="421.16" x2="129.40" y2="421.16" stroke="#8eadd8" stroke-width="1.4" />
<line x1="123.40" y1="478.66" x2="129.40" y2="478.66" stroke="#8eadd8" stroke-width="1.4" />
<line x1="119.90" y1="449.77" x2="132.90" y2="449.77" stroke="#000000" stroke-width="1.4" />
<circle cx="122.30" cy="430.22" r="2.6" fill="#8eadd8"/>
<circle cx="130.50" cy="428.35" r="2.6" fill="#8eadd8"/>
<circle cx="126.40" cy="451.49" r="2.6" fill="#8eadd8"/>
<circle cx="126.40" cy="490.16" r="2.6" fill="#8eadd8"/>
<line x1="178.40" y1="414.12" x2="178.40" y2="447.32" stroke="#0000c8" stroke-width="1.4" />
<line x1="175.40" y1="414.12" x2="181.40" y2="414.12" stroke="#0000c8" stroke-width="1.4" />
<line x1="175.40" y1="447.32" x2="181.40" y2="447.32" stroke="#0000c8" stroke-width="1.4" />
<line x1="171.90" y1="430.94" x2="184.90" y2="430.94" stroke="#000000" stroke-width="1.4" />
<circle cx="178.40" cy="412.68" r="2.6" fill="#0000c8"/>
<circle cx="178.40" cy="420.73" r="2.6" fill="#0000c8"/>
<circle cx="178.40" cy="441.14" r="2.6" fill="#0000c8"/>
<circle cx="178.40" cy="448.76" r="2.6" fill="#0000c8"/>
<line x1="197.80" y1="434.53" x2="197.80" y2="447.18" stroke="#8eadd8" stroke-width="1.4" />
<line x1="194.80" y1="434.53" x2="200.80" y2="434.53" stroke="#8eadd8" stroke-width="1.4" />
<line x1="194.80" y1="447.18" x2="200.80" y2="447.18" stroke="#8eadd8" stroke-width="1.4" />
<line x1="191.30" y1="440.86" x2="204.30" y2="440.86" stroke="#000000" stroke-width="1.4" />
<circle cx="197.80" cy="431.08" r="2.6" fill="#8eadd8"/>
<circle cx="193.80" cy="444.74" r="2.6" fill="#8eadd8"/>
<circle cx="197.80" cy="444.74" r="2.6" fill="#8eadd8"/>
<circle cx="201.90" cy="444.74" r="2.6" fill="#8eadd8"/>
<line x1="249.80" y1="430.36" x2="249.80" y2="494.19" stroke="#0000c8" stroke-width="1.4" />
<line x1="246.80" y1="430.36" x2="252.80" y2="430.36" stroke="#0000c8" stroke-width="1.4" />
<line x1="246.80" y1="494.19" x2="252.80" y2="494.19" stroke="#0000c8" stroke-width="1.4" />
<line x1="243.30" y1="462.27" x2="256.30" y2="462.27" stroke="#000000" stroke-width="1.4" />
<circle cx="245.50" cy="436.69" r="2.6" fill="#0000c8"/>
<circle cx="253.90" cy="432.52" r="2.6" fill="#0000c8"/>
<circle cx="245.50" cy="490.16" r="2.6" fill="#0000c8"/>
<circle cx="253.90" cy="490.16" r="2.6" fill="#0000c8"/>
<line x1="269.40" y1="437.55" x2="269.40" y2="493.76" stroke="#8eadd8" stroke-width="1.4" />
<line x1="266.40" y1="437.55" x2="272.40" y2="437.55" stroke="#8eadd8" stroke-width="1.4" />
<line x1="266.40" y1="493.76" x2="272.40" y2="493.76" stroke="#8eadd8" stroke-width="1.4" />
<line x1="262.90" y1="465.29" x2="275.90" y2="465.29" stroke="#000000" stroke-width="1.4" />
<circle cx="265.00" cy="441.00" r="2.6" fill="#8eadd8"/>
<circle cx="273.10" cy="441.00" r="2.6" fill="#8eadd8"/>
<circle cx="265.00" cy="490.16" r="2.6" fill="#8eadd8"/>
<circle cx="273.10" cy="490.16" r="2.6" fill="#8eadd8"/>
<circle cx="290.60" cy="437.80" r="2.55" fill="#000000"/>
<text x="317.60" y="437.80" font-size="11" text-anchor="start" fill="#000000" letter-spacing="0.9" font-weight="normal" dominant-baseline="central">PBS</text>
<circle cx="290.60" cy="450.60" r="2.55" fill="#0000c8"/>
<text x="317.60" y="450.60" font-size="11" text-anchor="start" fill="#000000" letter-spacing="0.9" font-weight="normal" dominant-baseline="central">IIa</text>
<circle cx="290.60" cy="465.50" r="2.55" fill="#8eadd8"/>
<text x="317.60" y="465.50" font-size="11" text-anchor="start" fill="#000000" letter-spacing="0.9" font-weight="normal" dominant-baseline="central">IIb</text>
<polyline fill="none" stroke="#000000" stroke-width="1.4" stroke-linejoin="miter" points="410.80,389.25 420.10,389.25 420.10,504.30 628.50,504.30"/>
<line x1="410.80" y1="389.25" x2="420.10" y2="389.25" stroke="#000000" stroke-width="1.4" />
<text x="408.10" y="389.25" font-size="11" text-anchor="end" fill="#000000" letter-spacing="0.2" font-weight="normal" dominant-baseline="central">6</text>
<line x1="410.80" y1="418.00" x2="420.10" y2="418.00" stroke="#000000" stroke-width="1.4" />
<text x="408.10" y="418.00" font-size="11" text-anchor="end" fill="#000000" letter-spacing="0.2" font-weight="normal" dominant-baseline="central">4</text>
<line x1="410.80" y1="446.75" x2="420.10" y2="446.75" stroke="#000000" stroke-width="1.4" />
<text x="408.10" y="446.75" font-size="11" text-anchor="end" fill="#000000" letter-spacing="0.2" font-weight="normal" dominant-baseline="central">2</text>
<line x1="410.80" y1="475.50" x2="420.10" y2="475.50" stroke="#000000" stroke-width="1.4" />
<text x="408.10" y="475.50" font-size="11" text-anchor="end" fill="#000000" letter-spacing="0.2" font-weight="normal" dominant-baseline="central">0</text>
<line x1="410.80" y1="504.25" x2="420.10" y2="504.25" stroke="#000000" stroke-width="1.4" />
<text x="408.10" y="504.25" font-size="11" text-anchor="end" fill="#000000" letter-spacing="0.2" font-weight="normal" dominant-baseline="central">-2</text>
<line x1="452.30" y1="504.30" x2="452.30" y2="513.60" stroke="#000000" stroke-width="1.4" />
<text x="452.30" y="522.90" font-size="11" text-anchor="middle" fill="#000000" letter-spacing="0.3" font-weight="normal" dominant-baseline="central">Lung</text>
<line x1="524.20" y1="504.30" x2="524.20" y2="513.60" stroke="#000000" stroke-width="1.4" />
<text x="524.20" y="522.90" font-size="11" text-anchor="middle" fill="#000000" letter-spacing="0.3" font-weight="normal" dominant-baseline="central">Spleen</text>
<line x1="595.50" y1="504.30" x2="595.50" y2="513.60" stroke="#000000" stroke-width="1.4" />
<text x="595.50" y="522.90" font-size="11" text-anchor="middle" fill="#000000" letter-spacing="0.3" font-weight="normal" dominant-baseline="central">Liver</text>
<circle cx="420.04" cy="475.50" r="1.35" fill="#000000"/>
<circle cx="427.10" cy="475.50" r="1.35" fill="#000000"/>
<circle cx="434.16" cy="475.50" r="1.35" fill="#000000"/>
<circle cx="441.22" cy="475.50" r="1.35" fill="#000000"/>
<circle cx="448.28" cy="475.50" r="1.35" fill="#000000"/>
<circle cx="455.34" cy="475.50" r="1.35" fill="#000000"/>
<circle cx="462.40" cy="475.50" r="1.35" fill="#000000"/>
<circle cx="469.46" cy="475.50" r="1.35" fill="#000000"/>
<circle cx="476.52" cy="475.50" r="1.35" fill="#000000"/>
<circle cx="483.58" cy="475.50" r="1.35" fill="#000000"/>
<circle cx="490.64" cy="475.50" r="1.35" fill="#000000"/>
<circle cx="497.70" cy="475.50" r="1.35" fill="#000000"/>
<circle cx="504.76" cy="475.50" r="1.35" fill="#000000"/>
<circle cx="511.82" cy="475.50" r="1.35" fill="#000000"/>
<circle cx="518.88" cy="475.50" r="1.35" fill="#000000"/>
<circle cx="525.94" cy="475.50" r="1.35" fill="#000000"/>
<circle cx="533.00" cy="475.50" r="1.35" fill="#000000"/>
<circle cx="540.06" cy="475.50" r="1.35" fill="#000000"/>
<circle cx="547.12" cy="475.50" r="1.35" fill="#000000"/>
<circle cx="554.18" cy="475.50" r="1.35" fill="#000000"/>
<circle cx="561.24" cy="475.50" r="1.35" fill="#000000"/>
<circle cx="568.30" cy="475.50" r="1.35" fill="#000000"/>
<circle cx="575.36" cy="475.50" r="1.35" fill="#000000"/>
<circle cx="582.42" cy="475.50" r="1.35" fill="#000000"/>
<circle cx="589.48" cy="475.50" r="1.35" fill="#000000"/>
<circle cx="596.54" cy="475.50" r="1.35" fill="#000000"/>
<circle cx="603.60" cy="475.50" r="1.35" fill="#000000"/>
<circle cx="610.66" cy="475.50" r="1.35" fill="#000000"/>
<circle cx="617.72" cy="475.50" r="1.35" fill="#000000"/>
<circle cx="624.78" cy="475.50" r="1.35" fill="#000000"/>
<text x="373.60" y="491.60" font-size="11.5" fill="#000000" textLength="85.60" lengthAdjust="spacing" transform="rotate(-90 373.60 491.60)">DNA (Orthopox)</text>
<text x="388.00" y="518.90" font-size="11.5" fill="#000000" textLength="138.80" lengthAdjust="spacing" transform="rotate(-90 388.00 518.90)">equivalent log10 PFU/ml</text>
<line x1="428.90" y1="489.88" x2="436.90" y2="489.88" stroke="#000000" stroke-width="1.4" />
<circle cx="428.90" cy="489.88" r="2.6" fill="#000000"/>
<circle cx="436.90" cy="489.88" r="2.6" fill="#000000"/>
<line x1="500.80" y1="489.88" x2="508.80" y2="489.88" stroke="#000000" stroke-width="1.4" />
<circle cx="500.80" cy="489.88" r="2.6" fill="#000000"/>
<circle cx="508.80" cy="489.88" r="2.6" fill="#000000"/>
<line x1="572.10" y1="489.88" x2="580.10" y2="489.88" stroke="#000000" stroke-width="1.4" />
<circle cx="572.10" cy="489.88" r="2.6" fill="#000000"/>
<circle cx="580.10" cy="489.88" r="2.6" fill="#000000"/>
<line x1="452.50" y1="425.91" x2="452.50" y2="442.44" stroke="#0000c8" stroke-width="1.4" />
<line x1="449.50" y1="425.91" x2="455.50" y2="425.91" stroke="#0000c8" stroke-width="1.4" />
<line x1="449.50" y1="442.44" x2="455.50" y2="442.44" stroke="#0000c8" stroke-width="1.4" />
<line x1="446.00" y1="434.10" x2="459.00" y2="434.10" stroke="#000000" stroke-width="1.4" />
<circle cx="452.50" cy="421.88" r="2.6" fill="#0000c8"/>
<circle cx="452.50" cy="436.11" r="2.6" fill="#0000c8"/>
<circle cx="456.50" cy="436.98" r="2.6" fill="#0000c8"/>
<circle cx="448.60" cy="441.14" r="2.6" fill="#0000c8"/>
<line x1="472.00" y1="422.31" x2="472.00" y2="443.88" stroke="#8eadd8" stroke-width="1.4" />
<line x1="469.00" y1="422.31" x2="475.00" y2="422.31" stroke="#8eadd8" stroke-width="1.4" />
<line x1="469.00" y1="443.88" x2="475.00" y2="443.88" stroke="#8eadd8" stroke-width="1.4" />
<line x1="465.50" y1="433.24" x2="478.50" y2="433.24" stroke="#000000" stroke-width="1.4" />
<circle cx="472.00" cy="417.57" r="2.6" fill="#8eadd8"/>
<circle cx="472.00" cy="433.52" r="2.6" fill="#8eadd8"/>
<circle cx="472.00" cy="438.56" r="2.6" fill="#8eadd8"/>
<circle cx="472.00" cy="443.44" r="2.6" fill="#8eadd8"/>
<line x1="524.10" y1="420.30" x2="524.10" y2="440.43" stroke="#0000c8" stroke-width="1.4" />
<line x1="521.10" y1="420.30" x2="527.10" y2="420.30" stroke="#0000c8" stroke-width="1.4" />
<line x1="521.10" y1="440.43" x2="527.10" y2="440.43" stroke="#0000c8" stroke-width="1.4" />
<line x1="517.60" y1="430.36" x2="530.60" y2="430.36" stroke="#000000" stroke-width="1.4" />
<circle cx="524.10" cy="416.85" r="2.6" fill="#0000c8"/>
<circle cx="519.80" cy="429.93" r="2.6" fill="#0000c8"/>
<circle cx="528.30" cy="434.53" r="2.6" fill="#0000c8"/>
<circle cx="524.10" cy="441.14" r="2.6" fill="#0000c8"/>
<line x1="543.80" y1="438.84" x2="543.80" y2="441.00" stroke="#8eadd8" stroke-width="1.4" />
<line x1="540.80" y1="438.84" x2="546.80" y2="438.84" stroke="#8eadd8" stroke-width="1.4" />
<line x1="540.80" y1="441.00" x2="546.80" y2="441.00" stroke="#8eadd8" stroke-width="1.4" />
<line x1="537.30" y1="439.99" x2="550.30" y2="439.99" stroke="#000000" stroke-width="1.4" />
<circle cx="539.50" cy="441.00" r="2.6" fill="#8eadd8"/>
<circle cx="542.50" cy="438.84" r="2.6" fill="#8eadd8"/>
<circle cx="545.00" cy="439.85" r="2.6" fill="#8eadd8"/>
<circle cx="548.00" cy="439.85" r="2.6" fill="#8eadd8"/>
<line x1="595.60" y1="426.62" x2="595.60" y2="437.41" stroke="#0000c8" stroke-width="1.4" />
<line x1="592.60" y1="426.62" x2="598.60" y2="426.62" stroke="#0000c8" stroke-width="1.4" />
<line x1="592.60" y1="437.41" x2="598.60" y2="437.41" stroke="#0000c8" stroke-width="1.4" />
<line x1="589.10" y1="432.09" x2="602.10" y2="432.09" stroke="#000000" stroke-width="1.4" />
<circle cx="591.30" cy="428.64" r="2.6" fill="#0000c8"/>
<circle cx="595.60" cy="428.64" r="2.6" fill="#0000c8"/>
<circle cx="599.70" cy="428.64" r="2.6" fill="#0000c8"/>
<circle cx="595.60" cy="439.71" r="2.6" fill="#0000c8"/>
<line x1="614.90" y1="428.64" x2="614.90" y2="477.94" stroke="#8eadd8" stroke-width="1.4" />
<line x1="611.90" y1="428.64" x2="617.90" y2="428.64" stroke="#8eadd8" stroke-width="1.4" />
<line x1="611.90" y1="477.94" x2="617.90" y2="477.94" stroke="#8eadd8" stroke-width="1.4" />
<line x1="608.40" y1="453.51" x2="621.40" y2="453.51" stroke="#000000" stroke-width="1.4" />
<circle cx="610.60" cy="439.56" r="2.6" fill="#8eadd8"/>
<circle cx="619.00" cy="437.55" r="2.6" fill="#8eadd8"/>
<circle cx="614.90" cy="447.04" r="2.6" fill="#8eadd8"/>
<circle cx="614.90" cy="489.88" r="2.6" fill="#8eadd8"/>
<polyline fill="none" stroke="#000000" stroke-width="1.3" points="505.5,410.3 505.5,406.3 524.1,406.3 524.1,410.3"/>
<polygon points="516.00,400.80 516.56,402.23 518.09,402.32 516.90,403.29 517.29,404.78 516.00,403.95 514.71,404.78 515.10,403.29 513.91,402.32 515.44,402.23" fill="#222" stroke="#222" stroke-width="0.4" stroke-linejoin="round"/>
<polyline fill="none" stroke="#000000" stroke-width="1.3" points="577.3,421.6 577.3,417.5 596.4,417.5 596.4,421.6"/>
<polygon points="587.70,411.80 588.26,413.23 589.79,413.32 588.60,414.29 588.99,415.78 587.70,414.95 586.41,415.78 586.80,414.29 585.61,413.32 587.14,413.23" fill="#222" stroke="#222" stroke-width="0.4" stroke-linejoin="round"/>
<circle cx="634.00" cy="438.70" r="2.55" fill="#000000"/>
<text x="661.30" y="438.70" font-size="11" text-anchor="start" fill="#000000" letter-spacing="0.9" font-weight="normal" dominant-baseline="central">PBS</text>
<circle cx="634.00" cy="450.50" r="2.55" fill="#0000c8"/>
<text x="661.30" y="450.50" font-size="11" text-anchor="start" fill="#000000" letter-spacing="0.9" font-weight="normal" dominant-baseline="central">IIa</text>
<circle cx="634.00" cy="463.50" r="2.55" fill="#8eadd8"/>
<text x="661.30" y="463.50" font-size="11" text-anchor="start" fill="#000000" letter-spacing="0.9" font-weight="normal" dominant-baseline="central">IIb</text>
<polyline fill="none" stroke="#000000" stroke-width="1.4" stroke-linejoin="miter" points="65.40,554.44 74.70,554.44 74.70,669.50 283.10,669.50"/>
<line x1="65.40" y1="554.44" x2="74.70" y2="554.44" stroke="#000000" stroke-width="1.4" />
<text x="62.70" y="554.44" font-size="11" text-anchor="end" fill="#000000" letter-spacing="0.2" font-weight="normal" dominant-baseline="central">8</text>
<line x1="65.40" y1="577.48" x2="74.70" y2="577.48" stroke="#000000" stroke-width="1.4" />
<text x="62.70" y="577.48" font-size="11" text-anchor="end" fill="#000000" letter-spacing="0.2" font-weight="normal" dominant-baseline="central">6</text>
<line x1="65.40" y1="600.52" x2="74.70" y2="600.52" stroke="#000000" stroke-width="1.4" />
<text x="62.70" y="600.52" font-size="11" text-anchor="end" fill="#000000" letter-spacing="0.2" font-weight="normal" dominant-baseline="central">4</text>
<line x1="65.40" y1="623.56" x2="74.70" y2="623.56" stroke="#000000" stroke-width="1.4" />
<text x="62.70" y="623.56" font-size="11" text-anchor="end" fill="#000000" letter-spacing="0.2" font-weight="normal" dominant-baseline="central">2</text>
<line x1="65.40" y1="646.60" x2="74.70" y2="646.60" stroke="#000000" stroke-width="1.4" />
<text x="62.70" y="646.60" font-size="11" text-anchor="end" fill="#000000" letter-spacing="0.2" font-weight="normal" dominant-baseline="central">0</text>
<line x1="65.40" y1="669.64" x2="74.70" y2="669.64" stroke="#000000" stroke-width="1.4" />
<text x="62.70" y="669.64" font-size="11" text-anchor="end" fill="#000000" letter-spacing="0.2" font-weight="normal" dominant-baseline="central">-2</text>
<line x1="107.00" y1="669.50" x2="107.00" y2="678.80" stroke="#000000" stroke-width="1.4" />
<text x="107.00" y="688.10" font-size="11" text-anchor="middle" fill="#000000" letter-spacing="0.3" font-weight="normal" dominant-baseline="central">O-swab</text>
<text x="107.00" y="701.00" font-size="11" text-anchor="middle" fill="#000000" letter-spacing="0.3" font-weight="normal" dominant-baseline="central">d4</text>
<line x1="178.20" y1="669.50" x2="178.20" y2="678.80" stroke="#000000" stroke-width="1.4" />
<text x="178.20" y="688.10" font-size="11" text-anchor="middle" fill="#000000" letter-spacing="0.3" font-weight="normal" dominant-baseline="central">O-swab</text>
<text x="178.20" y="701.00" font-size="11" text-anchor="middle" fill="#000000" letter-spacing="0.3" font-weight="normal" dominant-baseline="central">final</text>
<line x1="249.60" y1="669.50" x2="249.60" y2="678.80" stroke="#000000" stroke-width="1.4" />
<text x="249.60" y="688.10" font-size="11" text-anchor="middle" fill="#000000" letter-spacing="0.3" font-weight="normal" dominant-baseline="central">S-swab</text>
<text x="249.60" y="701.00" font-size="11" text-anchor="middle" fill="#000000" letter-spacing="0.3" font-weight="normal" dominant-baseline="central">final</text>
<circle cx="74.64" cy="646.60" r="1.35" fill="#000000"/>
<circle cx="81.70" cy="646.60" r="1.35" fill="#000000"/>
<circle cx="88.76" cy="646.60" r="1.35" fill="#000000"/>
<circle cx="95.82" cy="646.60" r="1.35" fill="#000000"/>
<circle cx="102.88" cy="646.60" r="1.35" fill="#000000"/>
<circle cx="109.94" cy="646.60" r="1.35" fill="#000000"/>
<circle cx="117.00" cy="646.60" r="1.35" fill="#000000"/>
<circle cx="124.06" cy="646.60" r="1.35" fill="#000000"/>
<circle cx="131.12" cy="646.60" r="1.35" fill="#000000"/>
<circle cx="138.18" cy="646.60" r="1.35" fill="#000000"/>
<circle cx="145.24" cy="646.60" r="1.35" fill="#000000"/>
<circle cx="152.30" cy="646.60" r="1.35" fill="#000000"/>
<circle cx="159.36" cy="646.60" r="1.35" fill="#000000"/>
<circle cx="166.42" cy="646.60" r="1.35" fill="#000000"/>
<circle cx="173.48" cy="646.60" r="1.35" fill="#000000"/>
<circle cx="180.54" cy="646.60" r="1.35" fill="#000000"/>
<circle cx="187.60" cy="646.60" r="1.35" fill="#000000"/>
<circle cx="194.66" cy="646.60" r="1.35" fill="#000000"/>
<circle cx="201.72" cy="646.60" r="1.35" fill="#000000"/>
<circle cx="208.78" cy="646.60" r="1.35" fill="#000000"/>
<circle cx="215.84" cy="646.60" r="1.35" fill="#000000"/>
<circle cx="222.90" cy="646.60" r="1.35" fill="#000000"/>
<circle cx="229.96" cy="646.60" r="1.35" fill="#000000"/>
<circle cx="237.02" cy="646.60" r="1.35" fill="#000000"/>
<circle cx="244.08" cy="646.60" r="1.35" fill="#000000"/>
<circle cx="251.14" cy="646.60" r="1.35" fill="#000000"/>
<circle cx="258.20" cy="646.60" r="1.35" fill="#000000"/>
<circle cx="265.26" cy="646.60" r="1.35" fill="#000000"/>
<circle cx="272.32" cy="646.60" r="1.35" fill="#000000"/>
<circle cx="279.38" cy="646.60" r="1.35" fill="#000000"/>
<text x="41.80" y="654.45" font-size="11.5" fill="#000000" textLength="80.15" lengthAdjust="spacing" transform="rotate(-90 41.80 654.45)">Log10 PFU/ml</text>
<line x1="83.60" y1="658.12" x2="91.60" y2="658.12" stroke="#000000" stroke-width="1.4" />
<circle cx="83.60" cy="658.12" r="2.6" fill="#000000"/>
<circle cx="91.60" cy="658.12" r="2.6" fill="#000000"/>
<line x1="154.80" y1="658.12" x2="162.80" y2="658.12" stroke="#000000" stroke-width="1.4" />
<circle cx="154.80" cy="658.12" r="2.6" fill="#000000"/>
<circle cx="162.80" cy="658.12" r="2.6" fill="#000000"/>
<line x1="226.20" y1="658.12" x2="234.20" y2="658.12" stroke="#000000" stroke-width="1.4" />
<circle cx="226.20" cy="658.12" r="2.6" fill="#000000"/>
<circle cx="234.20" cy="658.12" r="2.6" fill="#000000"/>
<line x1="100.50" y1="658.12" x2="113.00" y2="658.12" stroke="#000000" stroke-width="1.4" />
<circle cx="102.70" cy="658.12" r="2.6" fill="#0000c8"/>
<circle cx="105.40" cy="658.12" r="2.6" fill="#0000c8"/>
<circle cx="108.10" cy="658.12" r="2.6" fill="#0000c8"/>
<circle cx="110.80" cy="658.12" r="2.6" fill="#0000c8"/>
<circle cx="122.50" cy="658.12" r="2.6" fill="#8eadd8"/>
<circle cx="125.20" cy="658.12" r="2.6" fill="#8eadd8"/>
<circle cx="127.90" cy="658.12" r="2.6" fill="#8eadd8"/>
<circle cx="130.60" cy="658.12" r="2.6" fill="#8eadd8"/>
<line x1="178.30" y1="590.84" x2="178.30" y2="605.13" stroke="#0000c8" stroke-width="1.4" />
<line x1="175.30" y1="590.84" x2="181.30" y2="590.84" stroke="#0000c8" stroke-width="1.4" />
<line x1="175.30" y1="605.13" x2="181.30" y2="605.13" stroke="#0000c8" stroke-width="1.4" />
<line x1="171.80" y1="597.99" x2="184.80" y2="597.99" stroke="#000000" stroke-width="1.4" />
<circle cx="178.30" cy="589.12" r="2.6" fill="#0000c8"/>
<circle cx="174.30" cy="596.26" r="2.6" fill="#0000c8"/>
<circle cx="182.30" cy="600.40" r="2.6" fill="#0000c8"/>
<circle cx="178.30" cy="605.70" r="2.6" fill="#0000c8"/>
<line x1="197.70" y1="609.62" x2="197.70" y2="650.06" stroke="#8eadd8" stroke-width="1.4" />
<line x1="194.70" y1="609.62" x2="200.70" y2="609.62" stroke="#8eadd8" stroke-width="1.4" />
<line x1="194.70" y1="650.06" x2="200.70" y2="650.06" stroke="#8eadd8" stroke-width="1.4" />
<line x1="191.20" y1="629.78" x2="204.20" y2="629.78" stroke="#000000" stroke-width="1.4" />
<circle cx="197.70" cy="609.85" r="2.6" fill="#8eadd8"/>
<circle cx="193.50" cy="623.56" r="2.6" fill="#8eadd8"/>
<circle cx="202.00" cy="627.02" r="2.6" fill="#8eadd8"/>
<circle cx="197.70" cy="657.89" r="2.6" fill="#8eadd8"/>
<line x1="249.90" y1="574.25" x2="249.90" y2="589.46" stroke="#0000c8" stroke-width="1.4" />
<line x1="246.90" y1="574.25" x2="252.90" y2="574.25" stroke="#0000c8" stroke-width="1.4" />
<line x1="246.90" y1="589.46" x2="252.90" y2="589.46" stroke="#0000c8" stroke-width="1.4" />
<line x1="243.40" y1="581.86" x2="256.40" y2="581.86" stroke="#000000" stroke-width="1.4" />
<circle cx="249.90" cy="572.87" r="2.6" fill="#0000c8"/>
<circle cx="245.50" cy="580.36" r="2.6" fill="#0000c8"/>
<circle cx="254.20" cy="584.51" r="2.6" fill="#0000c8"/>
<circle cx="249.90" cy="589.46" r="2.6" fill="#0000c8"/>
<line x1="269.40" y1="585.54" x2="269.40" y2="598.22" stroke="#8eadd8" stroke-width="1.4" />
<line x1="266.40" y1="585.54" x2="272.40" y2="585.54" stroke="#8eadd8" stroke-width="1.4" />
<line x1="266.40" y1="598.22" x2="272.40" y2="598.22" stroke="#8eadd8" stroke-width="1.4" />
<line x1="262.90" y1="592.11" x2="275.90" y2="592.11" stroke="#000000" stroke-width="1.4" />
<circle cx="269.40" cy="582.55" r="2.6" fill="#8eadd8"/>
<circle cx="269.40" cy="591.42" r="2.6" fill="#8eadd8"/>
<circle cx="265.00" cy="596.49" r="2.6" fill="#8eadd8"/>
<circle cx="273.60" cy="596.49" r="2.6" fill="#8eadd8"/>
<polyline fill="none" stroke="#000000" stroke-width="1.3" points="159.6,584.4 159.6,579.9 178.6,579.9 178.6,584.4"/>
<polygon points="169.40,572.70 169.96,574.13 171.49,574.22 170.30,575.19 170.69,576.68 169.40,575.85 168.11,576.68 168.50,575.19 167.31,574.22 168.84,574.13" fill="#222" stroke="#222" stroke-width="0.4" stroke-linejoin="round"/>
<polyline fill="none" stroke="#000000" stroke-width="1.3" points="230.9,568.4 230.9,563.3 249.9,563.3 249.9,568.4"/>
<polygon points="241.30,558.20 241.86,559.63 243.39,559.72 242.20,560.69 242.59,562.18 241.30,561.35 240.01,562.18 240.40,560.69 239.21,559.72 240.74,559.63" fill="#222" stroke="#222" stroke-width="0.4" stroke-linejoin="round"/>
<circle cx="285.50" cy="609.80" r="2.55" fill="#000000"/>
<text x="312.50" y="609.80" font-size="11" text-anchor="start" fill="#000000" letter-spacing="0.9" font-weight="normal" dominant-baseline="central">PBS</text>
<circle cx="285.50" cy="622.50" r="2.55" fill="#0000c8"/>
<text x="312.50" y="622.50" font-size="11" text-anchor="start" fill="#000000" letter-spacing="0.9" font-weight="normal" dominant-baseline="central">IIa</text>
<circle cx="285.50" cy="635.40" r="2.55" fill="#8eadd8"/>
<text x="312.50" y="635.40" font-size="11" text-anchor="start" fill="#000000" letter-spacing="0.9" font-weight="normal" dominant-baseline="central">IIb</text>
<polyline fill="none" stroke="#000000" stroke-width="1.4" stroke-linejoin="miter" points="410.90,554.44 420.20,554.44 420.20,669.50 628.50,669.50"/>
<line x1="410.90" y1="554.44" x2="420.20" y2="554.44" stroke="#000000" stroke-width="1.4" />
<text x="408.20" y="554.44" font-size="11" text-anchor="end" fill="#000000" letter-spacing="0.2" font-weight="normal" dominant-baseline="central">8</text>
<line x1="410.90" y1="577.48" x2="420.20" y2="577.48" stroke="#000000" stroke-width="1.4" />
<text x="408.20" y="577.48" font-size="11" text-anchor="end" fill="#000000" letter-spacing="0.2" font-weight="normal" dominant-baseline="central">6</text>
<line x1="410.90" y1="600.52" x2="420.20" y2="600.52" stroke="#000000" stroke-width="1.4" />
<text x="408.20" y="600.52" font-size="11" text-anchor="end" fill="#000000" letter-spacing="0.2" font-weight="normal" dominant-baseline="central">4</text>
<line x1="410.90" y1="623.56" x2="420.20" y2="623.56" stroke="#000000" stroke-width="1.4" />
<text x="408.20" y="623.56" font-size="11" text-anchor="end" fill="#000000" letter-spacing="0.2" font-weight="normal" dominant-baseline="central">2</text>
<line x1="410.90" y1="646.60" x2="420.20" y2="646.60" stroke="#000000" stroke-width="1.4" />
<text x="408.20" y="646.60" font-size="11" text-anchor="end" fill="#000000" letter-spacing="0.2" font-weight="normal" dominant-baseline="central">0</text>
<line x1="410.90" y1="669.64" x2="420.20" y2="669.64" stroke="#000000" stroke-width="1.4" />
<text x="408.20" y="669.64" font-size="11" text-anchor="end" fill="#000000" letter-spacing="0.2" font-weight="normal" dominant-baseline="central">-2</text>
<line x1="452.40" y1="669.50" x2="452.40" y2="678.80" stroke="#000000" stroke-width="1.4" />
<text x="452.40" y="688.10" font-size="11" text-anchor="middle" fill="#000000" letter-spacing="0.3" font-weight="normal" dominant-baseline="central">O-swab</text>
<text x="452.40" y="701.00" font-size="11" text-anchor="middle" fill="#000000" letter-spacing="0.3" font-weight="normal" dominant-baseline="central">d4</text>
<line x1="523.90" y1="669.50" x2="523.90" y2="678.80" stroke="#000000" stroke-width="1.4" />
<text x="523.90" y="688.10" font-size="11" text-anchor="middle" fill="#000000" letter-spacing="0.3" font-weight="normal" dominant-baseline="central">O-swab</text>
<text x="523.90" y="701.00" font-size="11" text-anchor="middle" fill="#000000" letter-spacing="0.3" font-weight="normal" dominant-baseline="central">final</text>
<line x1="595.40" y1="669.50" x2="595.40" y2="678.80" stroke="#000000" stroke-width="1.4" />
<text x="595.40" y="688.10" font-size="11" text-anchor="middle" fill="#000000" letter-spacing="0.3" font-weight="normal" dominant-baseline="central">S-swab</text>
<text x="595.40" y="701.00" font-size="11" text-anchor="middle" fill="#000000" letter-spacing="0.3" font-weight="normal" dominant-baseline="central">final</text>
<circle cx="420.14" cy="646.60" r="1.35" fill="#000000"/>
<circle cx="427.20" cy="646.60" r="1.35" fill="#000000"/>
<circle cx="434.26" cy="646.60" r="1.35" fill="#000000"/>
<circle cx="441.32" cy="646.60" r="1.35" fill="#000000"/>
<circle cx="448.38" cy="646.60" r="1.35" fill="#000000"/>
<circle cx="455.44" cy="646.60" r="1.35" fill="#000000"/>
<circle cx="462.50" cy="646.60" r="1.35" fill="#000000"/>
<circle cx="469.56" cy="646.60" r="1.35" fill="#000000"/>
<circle cx="476.62" cy="646.60" r="1.35" fill="#000000"/>
<circle cx="483.68" cy="646.60" r="1.35" fill="#000000"/>
<circle cx="490.74" cy="646.60" r="1.35" fill="#000000"/>
<circle cx="497.80" cy="646.60" r="1.35" fill="#000000"/>
<circle cx="504.86" cy="646.60" r="1.35" fill="#000000"/>
<circle cx="511.92" cy="646.60" r="1.35" fill="#000000"/>
<circle cx="518.98" cy="646.60" r="1.35" fill="#000000"/>
<circle cx="526.04" cy="646.60" r="1.35" fill="#000000"/>
<circle cx="533.10" cy="646.60" r="1.35" fill="#000000"/>
<circle cx="540.16" cy="646.60" r="1.35" fill="#000000"/>
<circle cx="547.22" cy="646.60" r="1.35" fill="#000000"/>
<circle cx="554.28" cy="646.60" r="1.35" fill="#000000"/>
<circle cx="561.34" cy="646.60" r="1.35" fill="#000000"/>
<circle cx="568.40" cy="646.60" r="1.35" fill="#000000"/>
<circle cx="575.46" cy="646.60" r="1.35" fill="#000000"/>
<circle cx="582.52" cy="646.60" r="1.35" fill="#000000"/>
<circle cx="589.58" cy="646.60" r="1.35" fill="#000000"/>
<circle cx="596.64" cy="646.60" r="1.35" fill="#000000"/>
<circle cx="603.70" cy="646.60" r="1.35" fill="#000000"/>
<circle cx="610.76" cy="646.60" r="1.35" fill="#000000"/>
<circle cx="617.82" cy="646.60" r="1.35" fill="#000000"/>
<circle cx="624.88" cy="646.60" r="1.35" fill="#000000"/>
<text x="373.30" y="657.40" font-size="11.5" fill="#000000" textLength="85.70" lengthAdjust="spacing" transform="rotate(-90 373.30 657.40)">DNA (Orthopox)</text>
<text x="387.30" y="683.60" font-size="11.5" fill="#000000" textLength="138.00" lengthAdjust="spacing" transform="rotate(-90 387.30 683.60)">equivalent log10 PFU/ml</text>
<line x1="429.00" y1="658.12" x2="437.00" y2="658.12" stroke="#000000" stroke-width="1.4" />
<circle cx="429.00" cy="658.12" r="2.6" fill="#000000"/>
<circle cx="437.00" cy="658.12" r="2.6" fill="#000000"/>
<line x1="500.50" y1="658.12" x2="508.50" y2="658.12" stroke="#000000" stroke-width="1.4" />
<circle cx="500.50" cy="658.12" r="2.6" fill="#000000"/>
<circle cx="508.50" cy="658.12" r="2.6" fill="#000000"/>
<line x1="572.00" y1="658.12" x2="580.00" y2="658.12" stroke="#000000" stroke-width="1.4" />
<circle cx="572.00" cy="658.12" r="2.6" fill="#000000"/>
<circle cx="580.00" cy="658.12" r="2.6" fill="#000000"/>
<circle cx="448.10" cy="658.12" r="2.6" fill="#0000c8"/>
<circle cx="450.80" cy="658.12" r="2.6" fill="#0000c8"/>
<circle cx="453.50" cy="658.12" r="2.6" fill="#0000c8"/>
<circle cx="456.20" cy="658.12" r="2.6" fill="#0000c8"/>
<line x1="472.30" y1="631.85" x2="472.30" y2="666.53" stroke="#8eadd8" stroke-width="1.4" />
<line x1="469.30" y1="631.85" x2="475.30" y2="631.85" stroke="#8eadd8" stroke-width="1.4" />
<line x1="469.30" y1="666.53" x2="475.30" y2="666.53" stroke="#8eadd8" stroke-width="1.4" />
<line x1="465.80" y1="649.71" x2="478.80" y2="649.71" stroke="#000000" stroke-width="1.4" />
<circle cx="472.30" cy="623.33" r="2.6" fill="#8eadd8"/>
<circle cx="467.80" cy="658.12" r="2.6" fill="#8eadd8"/>
<circle cx="472.30" cy="658.12" r="2.6" fill="#8eadd8"/>
<circle cx="476.50" cy="658.12" r="2.6" fill="#8eadd8"/>
<line x1="523.90" y1="589.12" x2="523.90" y2="599.14" stroke="#0000c8" stroke-width="1.4" />
<line x1="520.90" y1="589.12" x2="526.90" y2="589.12" stroke="#0000c8" stroke-width="1.4" />
<line x1="520.90" y1="599.14" x2="526.90" y2="599.14" stroke="#0000c8" stroke-width="1.4" />
<line x1="517.40" y1="595.34" x2="530.40" y2="595.34" stroke="#000000" stroke-width="1.4" />
<circle cx="523.90" cy="586.24" r="2.6" fill="#0000c8"/>
<circle cx="520.20" cy="595.34" r="2.6" fill="#0000c8"/>
<circle cx="527.90" cy="595.34" r="2.6" fill="#0000c8"/>
<circle cx="523.90" cy="603.05" r="2.6" fill="#0000c8"/>
<line x1="543.50" y1="610.20" x2="543.50" y2="626.09" stroke="#8eadd8" stroke-width="1.4" />
<line x1="540.50" y1="610.20" x2="546.50" y2="610.20" stroke="#8eadd8" stroke-width="1.4" />
<line x1="540.50" y1="626.09" x2="546.50" y2="626.09" stroke="#8eadd8" stroke-width="1.4" />
<line x1="537.00" y1="617.92" x2="550.00" y2="617.92" stroke="#000000" stroke-width="1.4" />
<circle cx="543.50" cy="606.28" r="2.6" fill="#8eadd8"/>
<circle cx="539.60" cy="623.56" r="2.6" fill="#8eadd8"/>
<circle cx="547.70" cy="622.64" r="2.6" fill="#8eadd8"/>
<circle cx="543.50" cy="620.33" r="2.6" fill="#8eadd8"/>
<line x1="595.60" y1="575.18" x2="595.60" y2="592.00" stroke="#0000c8" stroke-width="1.4" />
<line x1="592.60" y1="575.18" x2="598.60" y2="575.18" stroke="#0000c8" stroke-width="1.4" />
<line x1="592.60" y1="592.00" x2="598.60" y2="592.00" stroke="#0000c8" stroke-width="1.4" />
<line x1="589.10" y1="583.82" x2="602.10" y2="583.82" stroke="#000000" stroke-width="1.4" />
<circle cx="595.60" cy="571.03" r="2.6" fill="#0000c8"/>
<circle cx="591.00" cy="587.62" r="2.6" fill="#0000c8"/>
<circle cx="599.60" cy="587.62" r="2.6" fill="#0000c8"/>
<circle cx="595.60" cy="587.62" r="2.6" fill="#0000c8"/>
<line x1="614.80" y1="579.21" x2="614.80" y2="597.76" stroke="#8eadd8" stroke-width="1.4" />
<line x1="611.80" y1="579.21" x2="617.80" y2="579.21" stroke="#8eadd8" stroke-width="1.4" />
<line x1="611.80" y1="597.76" x2="617.80" y2="597.76" stroke="#8eadd8" stroke-width="1.4" />
<line x1="608.30" y1="588.54" x2="621.30" y2="588.54" stroke="#000000" stroke-width="1.4" />
<circle cx="610.30" cy="583.36" r="2.6" fill="#8eadd8"/>
<circle cx="619.00" cy="581.05" r="2.6" fill="#8eadd8"/>
<circle cx="614.80" cy="589.23" r="2.6" fill="#8eadd8"/>
<circle cx="614.80" cy="602.02" r="2.6" fill="#8eadd8"/>
<polyline fill="none" stroke="#000000" stroke-width="1.3" points="504.5,581.5 504.5,577.5 524.4,577.5 524.4,581.5"/>
<polygon points="513.90,570.60 514.46,572.03 515.99,572.12 514.80,573.09 515.19,574.58 513.90,573.75 512.61,574.58 513.00,573.09 511.81,572.12 513.34,572.03" fill="#222" stroke="#222" stroke-width="0.4" stroke-linejoin="round"/>
<circle cx="633.00" cy="609.50" r="2.55" fill="#000000"/>
<text x="660.50" y="609.50" font-size="11" text-anchor="start" fill="#000000" letter-spacing="0.9" font-weight="normal" dominant-baseline="central">PBS</text>
<circle cx="633.00" cy="623.10" r="2.55" fill="#0000c8"/>
<text x="660.50" y="623.10" font-size="11" text-anchor="start" fill="#000000" letter-spacing="0.9" font-weight="normal" dominant-baseline="central">IIa</text>
<circle cx="633.00" cy="637.10" r="2.55" fill="#8eadd8"/>
<text x="660.50" y="637.10" font-size="11" text-anchor="start" fill="#000000" letter-spacing="0.9" font-weight="normal" dominant-baseline="central">IIb</text>
</svg></body></html>
